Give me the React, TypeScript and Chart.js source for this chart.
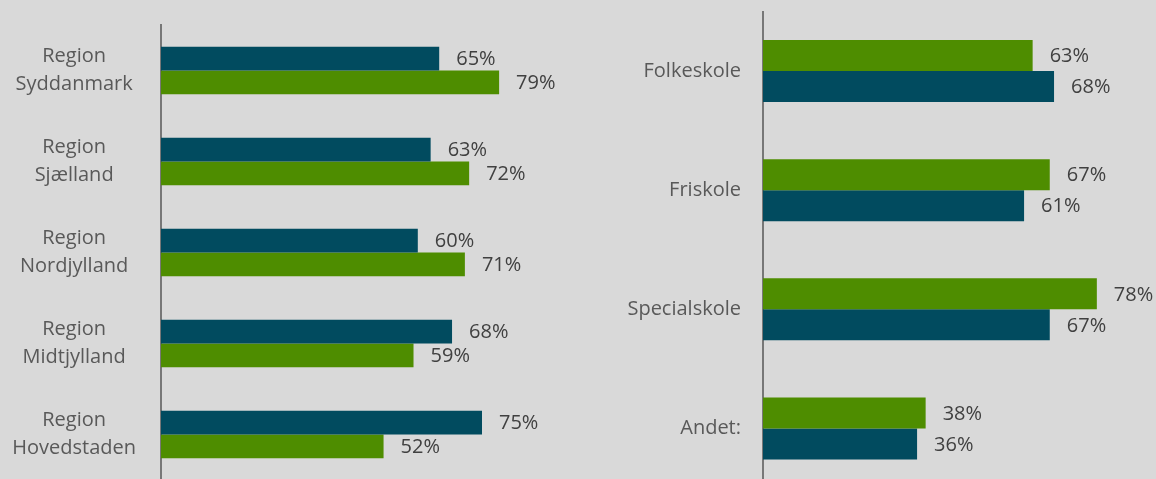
import React, { useEffect, useRef } from "react";
import { Chart, registerables } from "chart.js";

Chart.register(...registerables);

const regionLabels: string[][] = [
  ["Region", "Syddanmark"],
  ["Region", "Sjælland"],
  ["Region", "Nordjylland"],
  ["Region", "Midtjylland"],
  ["Region", "Hovedstaden"],
];
const regionDark = [65, 63, 60, 68, 75];
const regionGreen = [79, 72, 71, 59, 52];

const schoolLabels = ["Folkeskole", "Friskole", "Specialskole", "Andet:"];
const schoolGreen = [63, 67, 78, 38];
const schoolDark = [68, 61, 67, 36];

const DARK = "#014b5f";
const GREEN = "#4e8d00";
const FONT = "'Open Sans', sans-serif";

const valueLabels = {
  id: "valueLabels",
  afterDatasetsDraw(chart: any) {
    const ctx = chart.ctx;
    ctx.save();
    ctx.font = `20px ${FONT}`;
    ctx.fillStyle = "#404040";
    ctx.textAlign = "left";
    ctx.textBaseline = "middle";
    chart.data.datasets.forEach((ds: any, i: number) => {
      const meta = chart.getDatasetMeta(i);
      meta.data.forEach((bar: any, j: number) => {
        ctx.fillText(`${ds.data[j]}%`, bar.x + 17, bar.y + 1);
      });
    });
    ctx.restore();
  },
};

function makeConfig(
  labels: any[],
  datasets: any[],
  axisWidth: number,
  padTop: number,
  padRight: number,
  tickPad: number,
  crossAlign: string
): any {
  return {
    type: "bar",
    data: { labels, datasets },
    options: {
      indexAxis: "y",
      responsive: false,
      maintainAspectRatio: false,
      animation: false,
      layout: { padding: { top: padTop, bottom: 0, left: 0, right: padRight } },
      plugins: { legend: { display: false }, tooltip: { enabled: false } },
      datasets: { bar: { categoryPercentage: 0.52, barPercentage: 1 } },
      scales: {
        x: { display: false, min: 0, max: 100 },
        y: {
          grid: { display: false, drawTicks: false },
          border: { display: true, color: "#777777", width: 2 },
          ticks: {
            color: "#595959",
            padding: tickPad,
            crossAlign,
            font: { family: FONT, size: 20, lineHeight: 1.4 },
          },
          afterFit(scale: any) {
            scale.width = axisWidth;
            scale.paddingTop = 0;
            scale.paddingBottom = 0;
          },
        },
      },
    },
    plugins: [valueLabels],
  };
}

function ChartCanvas({ config, width, height, style }: any) {
  const ref = useRef<HTMLCanvasElement>(null);
  useEffect(() => {
    const chart = new Chart(ref.current as HTMLCanvasElement, config);
    return () => chart.destroy();
  }, []);
  return <canvas ref={ref} width={width} height={height} style={{ position: "absolute", width, height, ...style }} />;
}

export default function App() {
  const left = makeConfig(
    regionLabels,
    [
      { label: "Serie 1", data: regionDark, backgroundColor: DARK },
      { label: "Serie 2", data: regionGreen, backgroundColor: GREEN },
    ],
    161,
    25,
    11,
    25,
    "center"
  );
  const right = makeConfig(
    schoolLabels,
    [
      { label: "Serie 2", data: schoolGreen, backgroundColor: GREEN },
      { label: "Serie 1", data: schoolDark, backgroundColor: DARK },
    ],
    163,
    11.5,
    9,
    22,
    "near"
  );
  return (
    <div
      style={{
        position: "fixed",
        left: 0,
        top: 0,
        width: 1156,
        height: 479,
        overflow: "hidden",
        background: "#d9d9d9",
      }}
    >
      <ChartCanvas config={left} width={600} height={480} style={{ left: 0, top: 0 }} />
      <ChartCanvas config={right} width={600} height={488} style={{ left: 600, top: 0 }} />
    </div>
  );
}
